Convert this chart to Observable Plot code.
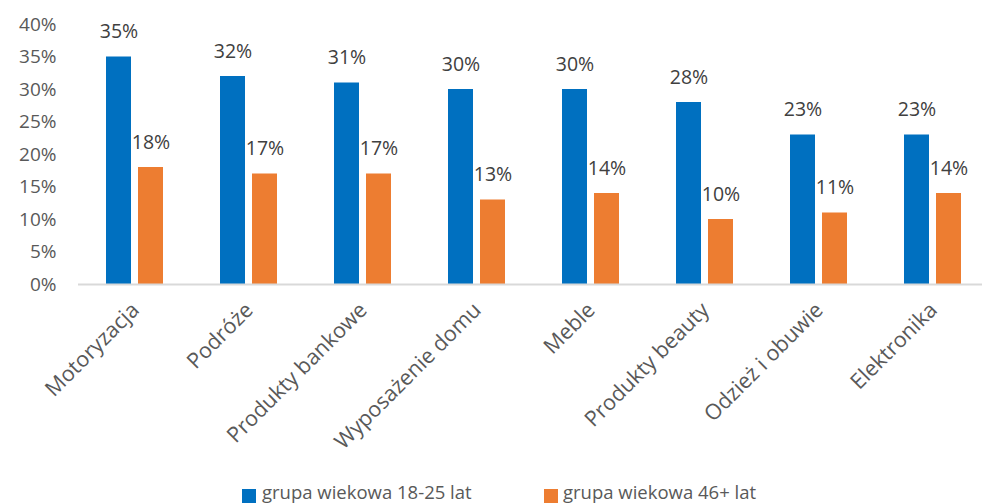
<!DOCTYPE html>
<html>
<head>
<meta charset="utf-8">
<script src="https://cdn.jsdelivr.net/npm/d3@7"></script>
<script src="https://cdn.jsdelivr.net/npm/@observablehq/plot@0.6"></script>
<style>
  html, body { margin: 0; padding: 0; background: white; overflow: hidden; }
  #wrap { position: relative; width: 982px; height: 504px; font-family: "Open Sans", sans-serif; }
  .sw { position: absolute; width: 14px; height: 14px; }
  .lt { position: absolute; font-size: 18.5px; line-height: 24px; color: #595959; white-space: nowrap; }
</style>
</head>
<body>
<div id="wrap"></div>
<script>
const categories = ["Motoryzacja", "Podróże", "Produkty bankowe", "Wyposażenie domu", "Meble", "Produkty beauty", "Odzież i obuwie", "Elektronika"];
const seriesNames = ["grupa wiekowa 18-25 lat", "grupa wiekowa 46+ lat"];
const young = [35, 32, 31, 30, 30, 28, 23, 23];
const older = [18, 17, 17, 13, 14, 10, 11, 14];
const yTicks = [0, 5, 10, 15, 20, 25, 30, 35, 40];
const colors = ["#0070C0", "#ED7D31"];

const data = [];
categories.forEach((c, i) => {
  data.push({cat: c, series: seriesNames[0], value: young[i]});
  data.push({cat: c, series: seriesNames[1], value: older[i]});
});

const chart = Plot.plot({
  width: 982,
  height: 478,
  marginLeft: 76,
  marginRight: -10,
  marginTop: 24,
  marginBottom: 194,
  style: {fontFamily: "Open Sans, sans-serif", background: "white"},
  fx: {domain: categories, padding: 0, label: null},
  x: {domain: seriesNames, paddingInner: 0.212, paddingOuter: 0.841, axis: null},
  y: {domain: [0, 40], label: null},
  color: {domain: seriesNames, range: colors},
  marks: [
    Plot.axisY({ticks: yTicks, tickSize: 0, tickPadding: 22, fontSize: 19, fill: "#595959", tickFormat: d => d + "%", label: null}),
    Plot.axisFx({anchor: "bottom", tickSize: 0, tickPadding: 22, tickRotate: -45, fontSize: 21.5, fill: "#595959", label: null}),
    Plot.barY(data, {fx: "cat", x: "series", y: "value", fill: "series"}),
    Plot.ruleY([0], {stroke: "#d9d9d9", strokeWidth: 2}),
    Plot.text(data, {fx: "cat", x: "series", y: "value", text: d => d.value + "%", dy: -25, fontSize: 19.5, fill: "#404040"})
  ]
});
const wrap = document.getElementById("wrap");
wrap.appendChild(chart);

const legendPos = [{sq: 242, tx: 262}, {sq: 544, tx: 563}];
seriesNames.forEach((s, i) => {
  const sw = document.createElement("div");
  sw.className = "sw";
  sw.style.left = legendPos[i].sq + "px";
  sw.style.top = "489px";
  sw.style.background = colors[i];
  wrap.appendChild(sw);
  const t = document.createElement("div");
  t.className = "lt";
  t.style.left = legendPos[i].tx + "px";
  t.style.top = "480px";
  t.textContent = s;
  wrap.appendChild(t);
});
</script>
</body>
</html>
